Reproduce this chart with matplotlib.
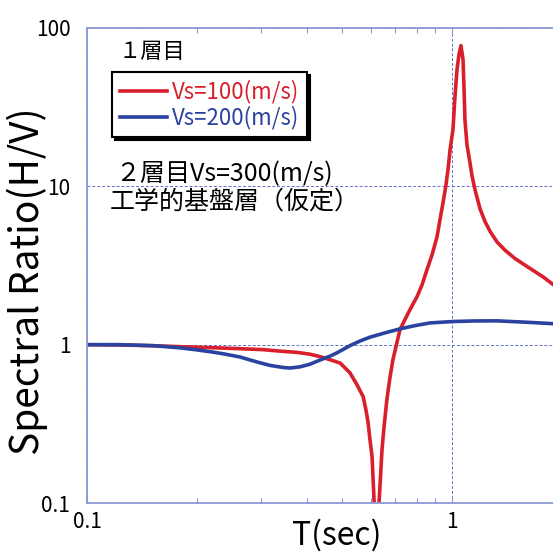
import matplotlib
matplotlib.use("Agg")
import matplotlib.pyplot as plt
from matplotlib.ticker import NullLocator, FixedLocator, NullFormatter

plt.rcParams['font.family'] = ['Noto Sans CJK JP', 'DejaVu Sans']

# values (period T in sec, H/V ratio)
t_red = [0.100, 0.123, 0.152, 0.180, 0.221, 0.263, 0.304, 0.338, 0.376, 0.408,
         0.435, 0.463, 0.494, 0.525, 0.549, 0.571, 0.581, 0.589, 0.596, 0.604,
         0.612, 0.620, 0.631, 0.643, 0.651, 0.663, 0.676, 0.689, 0.720, 0.743,
         0.767, 0.802, 0.828, 0.854, 0.882, 0.910, 0.927, 0.945, 0.963, 0.975,
         0.988, 1.006, 1.019, 1.032, 1.045, 1.058, 1.072, 1.079, 1.085, 1.099,
         1.120, 1.134, 1.156, 1.193, 1.232, 1.271, 1.329, 1.397, 1.488, 1.636,
         1.776, 1.891]
v_red = [1.00, 0.995, 0.985, 0.971, 0.957, 0.943, 0.930, 0.910, 0.894, 0.871,
         0.840, 0.804, 0.765, 0.665, 0.559, 0.469, 0.388, 0.322, 0.251, 0.196,
         0.10, 0.02, 0.10, 0.217, 0.299, 0.449, 0.619, 0.804, 1.244, 1.439,
         1.664, 2.01, 2.39, 2.977, 3.70, 4.81, 6.16, 7.89, 10.25, 12.75,
         17.06, 22.8, 36.9, 54.6, 67.9, 77.4, 63.2, 40.8, 26.4, 18.3,
         14.1, 11.7, 9.53, 7.23, 5.98, 5.20, 4.45, 3.95, 3.50, 3.03,
         2.68, 2.40]

t_blue = [0.100, 0.123, 0.152, 0.180, 0.200, 0.221, 0.240, 0.263, 0.280, 0.298,
          0.317, 0.344, 0.360, 0.383, 0.408, 0.435, 0.463, 0.484, 0.525, 0.560,
          0.596, 0.656, 0.720, 0.792, 0.871, 1.006, 1.156, 1.329, 1.636, 1.891]
v_blue = [1.00, 1.00, 0.985, 0.955, 0.927, 0.898, 0.870, 0.835, 0.800, 0.768,
          0.740, 0.718, 0.712, 0.724, 0.752, 0.800, 0.846, 0.888, 0.985, 1.055,
          1.115, 1.188, 1.258, 1.319, 1.372, 1.400, 1.412, 1.414, 1.382, 1.357]

labels = ['Vs=100(m/s)', 'Vs=200(m/s)']
red = '#d91f2b'
blue = '#2b43a0'
spine_col = '#8c98d6'

fig = plt.figure(figsize=(5.53, 5.54), dpi=100)
ax = fig.add_axes([87/553, 51/554, 466/553, 475/554])

ax.plot(t_red, v_red, color=red, lw=2.6, label=labels[0])
ax.plot(t_blue, v_blue, color=blue, lw=2.6, label=labels[1])

ax.set_xscale('log')
ax.set_yscale('log')
ax.set_xlim(0.1, 1.891)
ax.set_ylim(0.1, 100)

ax.set_xticks([0.1, 1], ['0.1', '1'])
ax.xaxis.set_minor_locator(FixedLocator([0.2, 0.3, 0.4, 0.5, 0.6, 0.7, 0.8, 0.9]))
ax.xaxis.set_minor_formatter(NullFormatter())
ax.set_yticks([0.1, 1, 10, 100], ['0.1', '1', '10', '100'])
ax.yaxis.set_minor_locator(NullLocator())

ax.tick_params(axis='x', which='both', direction='in', top=True, colors=spine_col,
               labelcolor='black', labelsize=15, pad=6)
ax.tick_params(axis='x', which='major', length=5)
ax.tick_params(axis='x', which='minor', length=3.5, width=0.8)
ax.tick_params(axis='y', length=0, labelsize=15, pad=12)

for s in ['left', 'bottom', 'top']:
    ax.spines[s].set_color(spine_col)
    ax.spines[s].set_linewidth(1.3)
ax.spines['right'].set_visible(False)

ax.grid(True, which='major', color='#6070c8', lw=0.7, ls=(0, (3, 2)))

leg = ax.legend(loc='upper left', bbox_to_anchor=(0.054, 0.907), borderaxespad=0,
                fontsize=16, labelcolor='linecolor', handlelength=2.1,
                handletextpad=0.25, labelspacing=0.1, borderpad=0.35,
                fancybox=False, shadow={'color': 'black', 'alpha': 1})
leg.get_frame().set_edgecolor('black')
leg.get_frame().set_linewidth(1.5)
leg.get_frame().set_alpha(1)

fig.text(118/553, 1 - 52/554, '１層目', fontsize=16, ha='left', va='center')
fig.text(115/553, 1 - 174/554, '２層目Vs=300(m/s)', fontsize=18, ha='left', va='center')
fig.text(110/553, 1 - 202/554, '工学的基盤層（仮定）', fontsize=18, ha='left', va='center')

fig.text(27/553, 1 - 281/554, 'Spectral Ratio(H/V)', fontsize=28, rotation=90,
         ha='center', va='center')
fig.text(337/553, 1 - 535/554, 'T(sec)', fontsize=23, ha='center', va='center')

fig.savefig('out.png', dpi=100)
